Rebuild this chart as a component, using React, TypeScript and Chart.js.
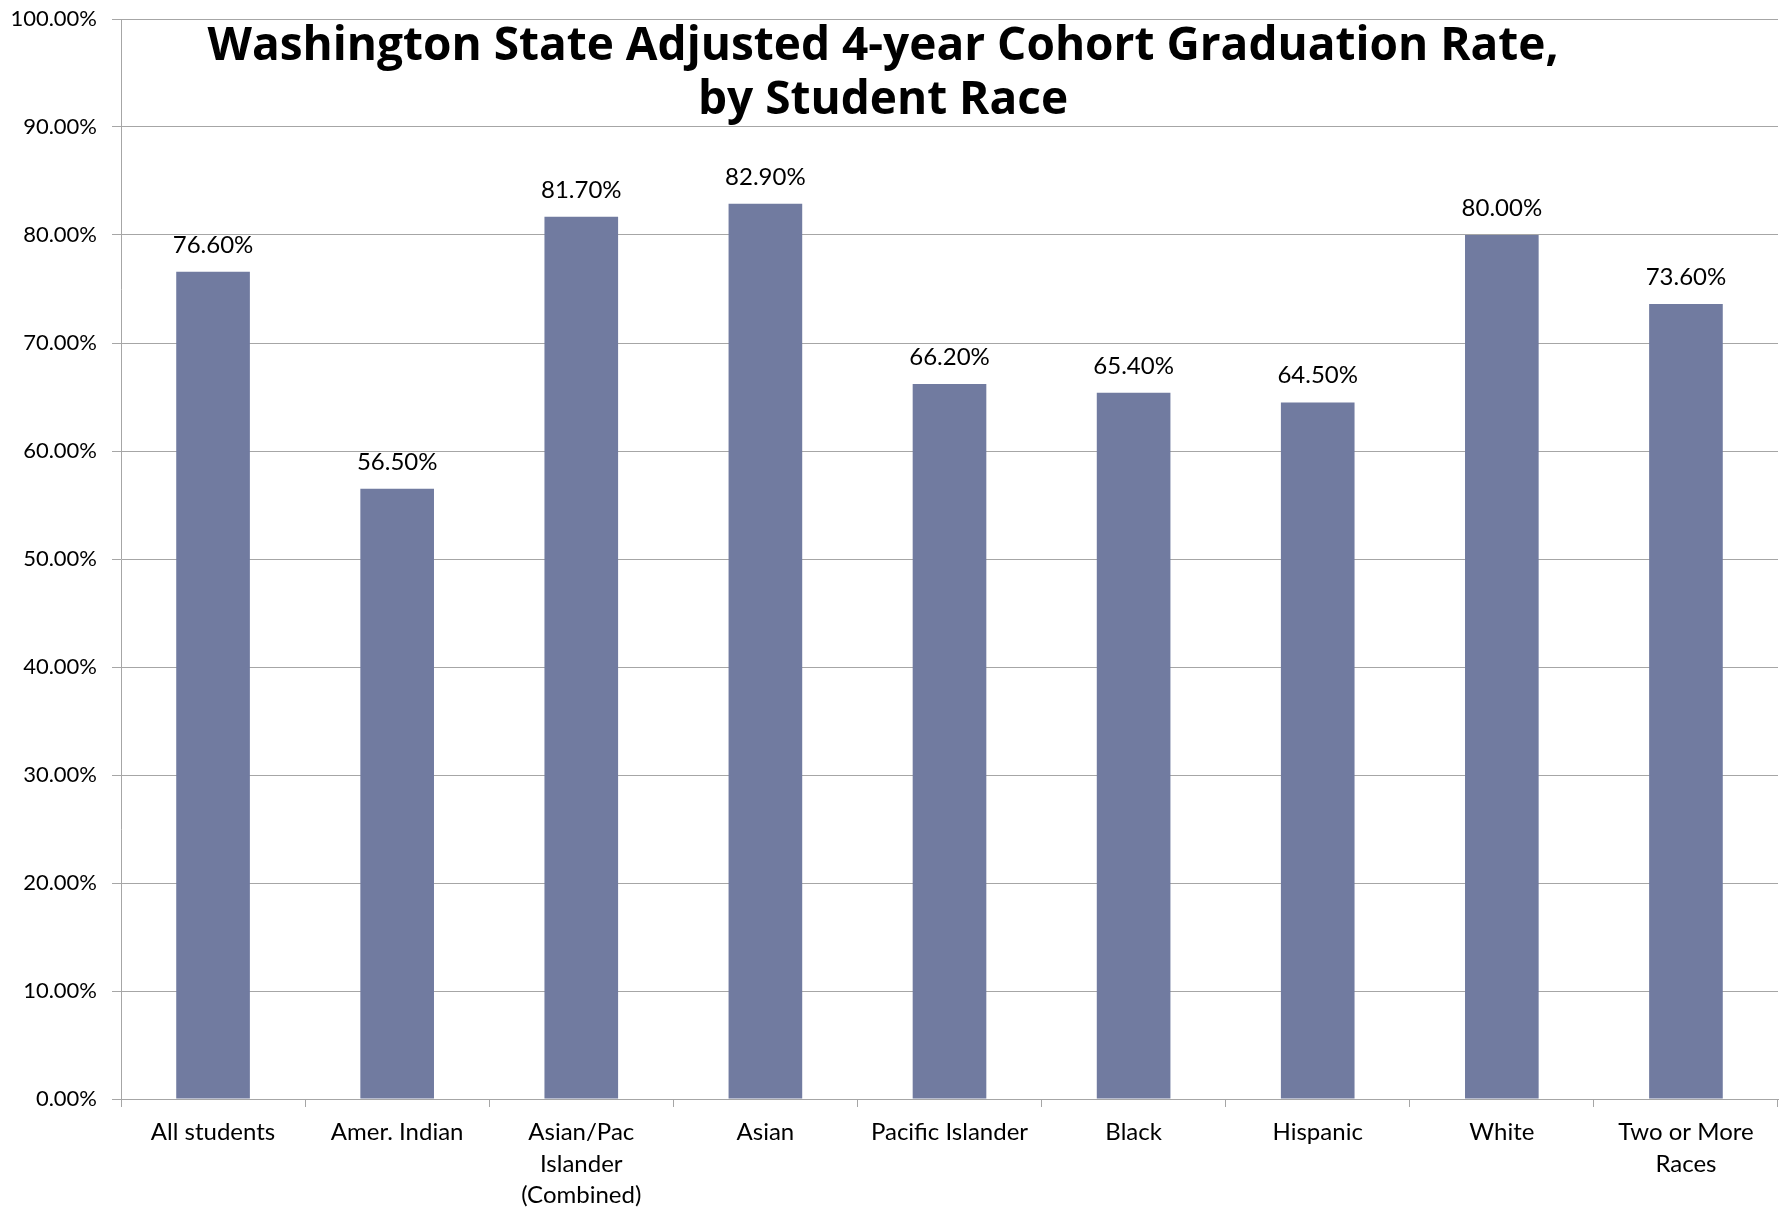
import React, { useEffect, useRef } from "react";
import { Chart, registerables } from "chart.js";

Chart.register(...registerables);

const categories: (string | string[])[] = [
  "All students",
  "Amer. Indian",
  ["Asian/Pac", "Islander", "(Combined)"],
  "Asian",
  "Pacific Islander",
  "Black",
  "Hispanic",
  "White",
  ["Two or More", "Races"],
];

const rates: number[] = [76.6, 56.5, 81.7, 82.9, 66.2, 65.4, 64.5, 80.0, 73.6];

const titleLines: string[] = [
  "Washington State Adjusted 4-year Cohort Graduation Rate,",
  "by Student Race",
];

const FONT = "Lato, 'Open Sans', sans-serif";
const TITLE_FONT = "'Open Sans', Lato, sans-serif";
const BAR_COLOR = "#717BA0";
const GRID_COLOR = "#A6A6A6";

const titlePlugin = {
  id: "overlayTitle",
  afterDraw(chart: any) {
    const ctx = chart.ctx;
    ctx.save();
    ctx.fillStyle = "#000";
    ctx.font = `bold 46px ${TITLE_FONT}`;
    ctx.textAlign = "center";
    ctx.textBaseline = "alphabetic";
    ctx.fillText(titleLines[0], 883, 60);
    ctx.fillText(titleLines[1], 883, 114);
    ctx.restore();
  },
};

const valueLabelPlugin = {
  id: "valueLabels",
  afterDatasetsDraw(chart: any) {
    const ctx = chart.ctx;
    const meta = chart.getDatasetMeta(0);
    const data = chart.data.datasets[0].data as number[];
    ctx.save();
    ctx.fillStyle = "#000";
    ctx.font = `24px ${FONT}`;
    ctx.textAlign = "center";
    ctx.textBaseline = "alphabetic";
    meta.data.forEach((bar: any, i: number) => {
      ctx.fillText(data[i].toFixed(2) + "%", bar.x, bar.y - 19);
    });
    ctx.restore();
  },
};

export default function App() {
  const canvasRef = useRef<HTMLCanvasElement | null>(null);

  useEffect(() => {
    if (!canvasRef.current) return;
    const chart = new Chart(canvasRef.current, {
      type: "bar",
      data: {
        labels: categories,
        datasets: [
          {
            data: rates,
            backgroundColor: BAR_COLOR,
            borderWidth: 0,
            categoryPercentage: 1,
            barPercentage: 0.4,
          },
        ],
      },
      plugins: [valueLabelPlugin, titlePlugin],
      options: {
        animation: false,
        responsive: false,
        maintainAspectRatio: false,
        layout: { padding: { top: 19, right: 8, left: 0, bottom: 0 } },
        plugins: {
          legend: { display: false },
          title: { display: false },
          tooltip: { enabled: false },
        },
        scales: {
          x: {
            grid: {
              display: true,
              drawOnChartArea: false,
              drawTicks: true,
              tickLength: 8,
              offset: true,
              color: GRID_COLOR,
            },
            border: { color: GRID_COLOR, width: 1 },
            ticks: {
              color: "#000",
              font: { family: FONT, size: 24, lineHeight: 1.3 },
              maxRotation: 0,
              minRotation: 0,
              autoSkip: false,
              padding: 10,
            },
            afterFit(scale: any) {
              scale.height = 109;
              scale.paddingLeft = 0;
              scale.paddingRight = 0;
            },
          },
          y: {
            min: 0,
            max: 100,
            grid: {
              color: GRID_COLOR,
              tickLength: 9,
              drawTicks: true,
            },
            border: { color: GRID_COLOR, width: 1 },
            ticks: {
              stepSize: 10,
              color: "#000",
              font: { family: FONT, size: 22 },
              padding: 15,
              callback: (v: any) => Number(v).toFixed(2) + "%",
            },
            afterFit(scale: any) {
              scale.width = 121;
              scale.paddingTop = 0;
              scale.paddingBottom = 0;
            },
          },
        },
      },
    });
    return () => chart.destroy();
  }, []);

  return (
    <div style={{ position: "fixed", left: 0, top: 0, width: 1786, height: 1208, background: "#fff" }}>
      <canvas ref={canvasRef} width={1786} height={1208} style={{ width: 1786, height: 1208, display: "block" }} />
    </div>
  );
}
